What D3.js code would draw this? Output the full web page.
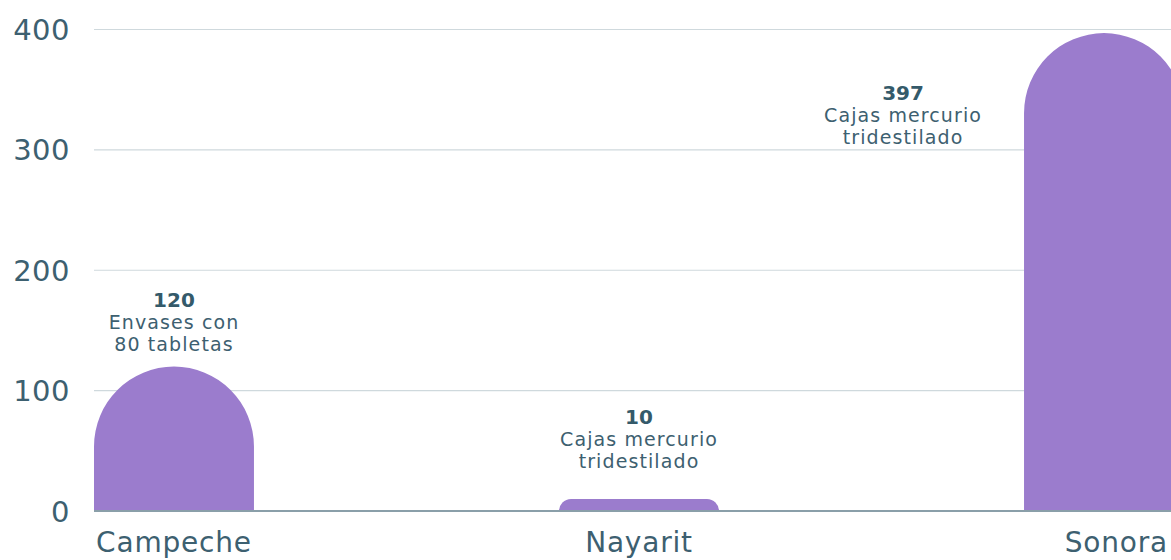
<!DOCTYPE html>
<html>
<head>
<meta charset="utf-8">
<script src="https://cdn.jsdelivr.net/npm/d3@7"></script>
<style>
  html, body { margin: 0; padding: 0; background: #fff; }
  svg { display: block; font-family: "DejaVu Sans", sans-serif; }
</style>
</head>
<body>
<script>
const categories = ['Campeche', 'Nayarit', 'Sonora']
const values = [120, 10, 397]
const unitLines = [
  ['Envases con', '80 tabletas'],
  ['Cajas mercurio', 'tridestilado'],
  ['Cajas mercurio', 'tridestilado']
]
const yTicks = [0, 100, 200, 300, 400]

const data = categories.map((c, i) => ({cat: c, value: values[i], lines: unitLines[i]}))

const width = 1171
const height = 560
const textColor = '#3d6070'

const svg = d3.select('body')
  .append('svg')
  .attr('width', width)
  .attr('height', height)

const x = d3.scaleBand()
  .domain(categories)
  .range([94, 1184])
  .paddingInner(0.656)
  .paddingOuter(0)

const y = d3.scaleLinear().domain([0, 400]).range([511, 29.5])

// gridlines
svg.append('g')
  .selectAll('line')
  .data(yTicks.filter(t => t > 0))
  .join('line')
  .attr('x1', 94)
  .attr('x2', width)
  .attr('y1', d => y(d))
  .attr('y2', d => y(d))
  .attr('stroke', '#cfd9dd')
  .attr('stroke-width', 1.2)

// y tick labels
svg.append('g')
  .selectAll('text')
  .data(yTicks)
  .join('text')
  .attr('x', 70)
  .attr('y', d => y(d) + 10.5)
  .attr('text-anchor', 'end')
  .attr('fill', textColor)
  .style('font-size', '29px')
  .style('letter-spacing', '0.5px')
  .text(d => d)

// bars with rounded tops
function barPath(d) {
  const x0 = x(d.cat)
  const x1 = x0 + x.bandwidth()
  const y0 = y(0)
  const top = y(d.value)
  const r = Math.min(x.bandwidth() / 2, (y0 - top))
  return `M${x0},${y0} L${x0},${top + r} A${r},${r} 0 0 1 ${x0 + r},${top} ` +
    `L${x1 - r},${top} A${r},${r} 0 0 1 ${x1},${top + r} L${x1},${y0} Z`
}

svg.append('g')
  .selectAll('path')
  .data(data)
  .join('path')
  .attr('d', barPath)
  .attr('fill', '#9b7ccd')

// baseline
svg.append('line')
  .attr('x1', 94)
  .attr('x2', width)
  .attr('y1', y(0))
  .attr('y2', y(0))
  .attr('stroke', '#8a9fa9')
  .attr('stroke-width', 2)

// x labels, kept inside the frame
svg.append('g')
  .selectAll('text')
  .data(categories)
  .join('text')
  .attr('y', 552)
  .attr('fill', textColor)
  .style('font-size', '28px')
  .style('letter-spacing', '0.8px')
  .text(d => d)
  .each(function(d) {
    const cx = x(d) + x.bandwidth() / 2
    const clipped = x(d) + x.bandwidth() > width
    d3.select(this)
      .attr('text-anchor', clipped ? 'end' : 'middle')
      .attr('x', clipped ? width - 3 : cx)
  })

// value labels
const lab = svg.append('g')
  .selectAll('g')
  .data(data)
  .join('g')
  .attr('transform', d => {
    const top = y(d.value)
    if (top < 100) {
      // too tall: label goes to the left of the bar
      return `translate(${x(d.cat) - 121},${top + 111})`
    }
    const bottom = Math.min(top - 15.5, y(0) - 43)
    return `translate(${x(d.cat) + x.bandwidth() / 2},${bottom})`
  })

lab.append('text')
  .attr('y', -44)
  .attr('text-anchor', 'middle')
  .attr('fill', '#345a6a')
  .style('font-size', '20px')
  .style('font-weight', 'bold')
  .text(d => d.value)

lab.each(function(d) {
  d3.select(this).selectAll('text.unit')
    .data(d.lines)
    .join('text')
    .attr('class', 'unit')
    .attr('y', (t, i) => (i - 1) * 22)
    .attr('text-anchor', 'middle')
    .attr('fill', textColor)
    .style('font-size', '19px')
    .style('letter-spacing', '1.1px')
    .text(t => t)
})
</script>
</body>
</html>
